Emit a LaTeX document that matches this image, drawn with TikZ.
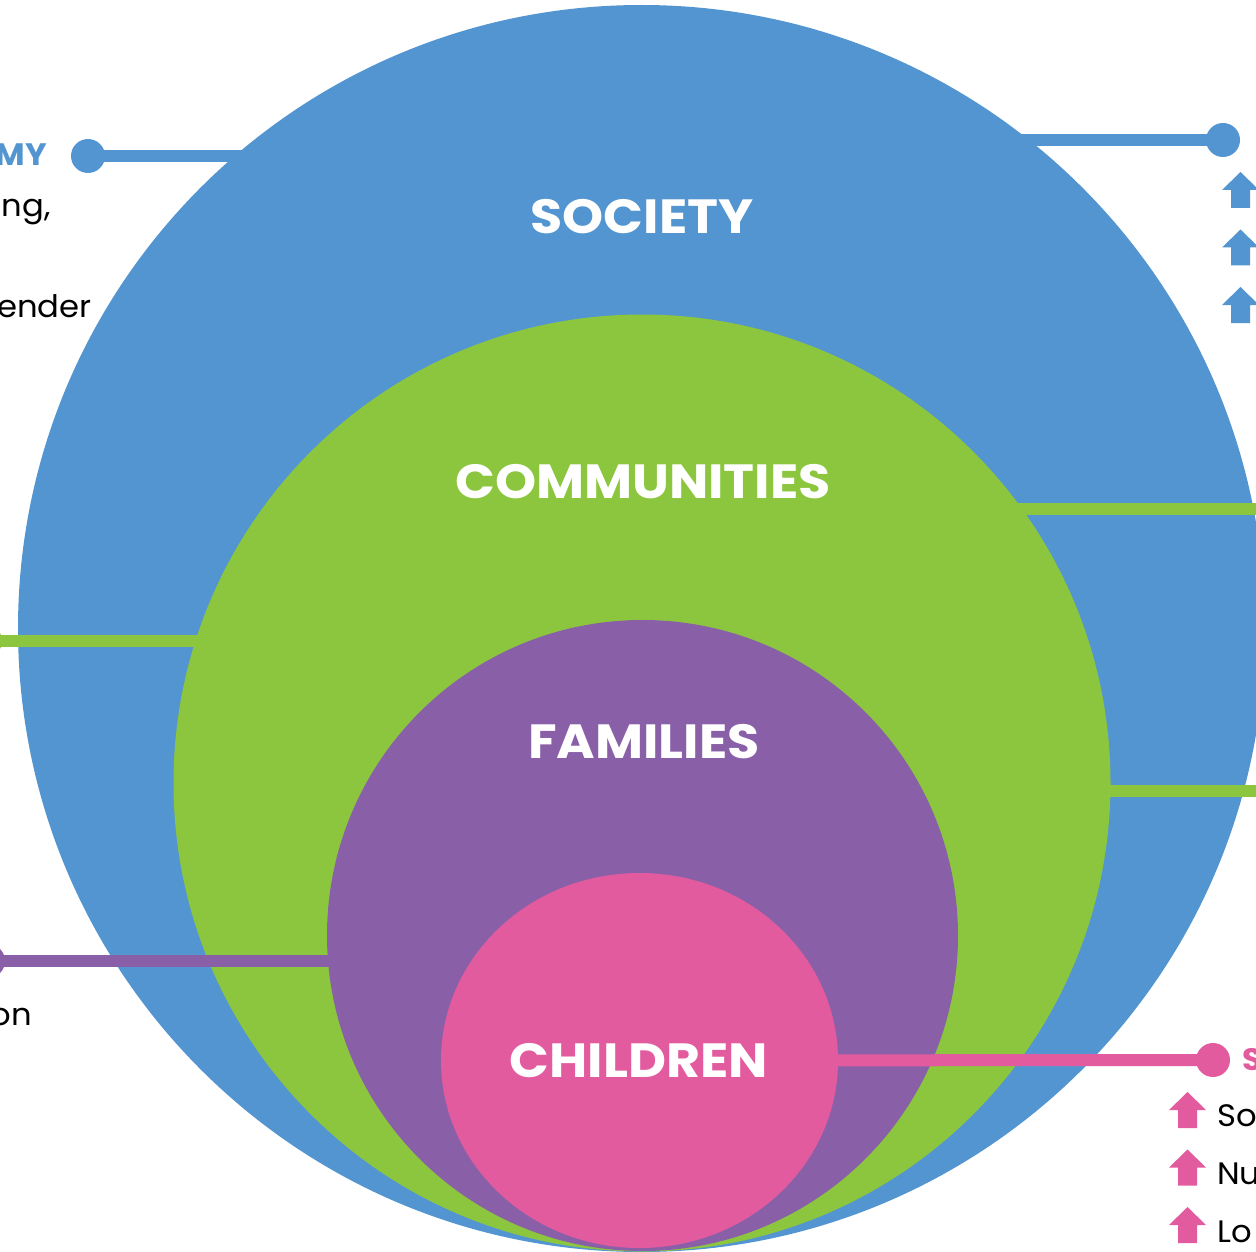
\documentclass[tikz,border=0pt]{standalone}
\usepackage{fontspec}
\setmainfont{Poppins}
\usetikzlibrary{positioning}
\definecolor{socblue}{HTML}{5395D0}
\definecolor{comgreen}{HTML}{8CC63F}
\definecolor{fampurple}{HTML}{8960A8}
\definecolor{chipink}{HTML}{E35B9F}
\tikzset{
    every picture/.style={x=1pt,y=-1pt},
    ringlabel/.style={text=white, font=\fontsize{48}{48}\selectfont\bfseries, xscale=1.09},
    sidetext/.style={font=\fontsize{31}{31}\selectfont, inner sep=0pt, xscale=1.04},
    sidehead/.style={font=\fontsize{31}{31}\selectfont\bfseries, inner sep=0pt, xscale=1.04},
    link/.style={line width=12pt},
    uparr/.pic={\fill (-18.5,0) -- (0,-18) -- (18.5,0) -- (9.5,0) -- (9.5,18) -- (-9.5,18) -- (-9.5,0) -- cycle;}
}

\begin{document}
\begin{tikzpicture}
    \useasboundingbox (0,0) rectangle (1256,1252);

    % Define centres
    \coordinate (soc) at (641.5,628.5);
    \coordinate (comm) at (642,783);
    \coordinate (fam) at (642.5,935.5);
    \coordinate (child) at (639.5,1060.5);

    % Define dots and free ends
    \coordinate (ecodot) at (88,156);
    \coordinate (socR) at (1223,140);
    \coordinate (comL) at (-15,641);
    \coordinate (comR1) at (1280,508.5);
    \coordinate (comR2) at (1280,791);
    \coordinate (famL) at (-12,961);
    \coordinate (chiR) at (1213,1060);

    % Society
    \fill[socblue] (soc) circle (623.5pt);
    \draw[link, socblue] (ecodot) -- (ecodot -| soc);
    \draw[link, socblue] (socR) -- (socR -| soc);
    \fill[socblue] (ecodot) circle (17pt);
    \fill[socblue] (socR) circle (17pt);

    % Communities
    \draw[link, comgreen] (comL) -- (comL -| comm);
    \draw[link, comgreen] (comR1) -- (comR1 -| comm);
    \draw[link, comgreen] (comR2) -- (comR2 -| comm);
    \fill[comgreen] (comL) circle (17pt);
    \fill[comgreen] (comm) circle (468.5pt);

    % Families
    \draw[link, fampurple] (famL) -- (famL -| fam);
    \fill[fampurple] (famL) circle (17pt);
    \fill[fampurple] (fam) circle (315.5pt);

    % Children
    \draw[link, chipink] (child) -- (chiR);
    \fill[chipink] (chiR) circle (17pt);
    \fill[chipink] (child) ellipse [x radius=198.5pt, y radius=187.5pt];

    % Ring labels
    \node[ringlabel] (lsoc) at (642,217) {SOCIETY};
    \node[ringlabel] (lcomm) at (643,481.5) {COMMUNITIES};
    \node[ringlabel] (lfam) at (644,741.5) {FAMILIES};
    \node[ringlabel] (lchild) at (639,1061) {CHILDREN};

    % Left texts
    \node[sidehead, text=socblue, anchor=base east] (teco) at (47,166) {MY};
    \node[sidetext, anchor=base east] (teco1) at (51,217) {ng,};
    \node[sidetext, anchor=base east] (teco3) at (92,317) {ender};
    \node[sidetext, anchor=base east] (tfam) at (32,1025) {on};

    % Right texts and arrows
    \foreach \i in {0,1,2} {
        \pic[socblue] at (1240.5,{190+57.5*\i}) {uparr};
    }
    \node[sidehead, text=chipink, anchor=base west] (tchi) at (1242,1070) {S};
    \foreach \t [count=\i from 0] in {So,Nu,Lo} {
        \pic[chipink] at (1187.5,{1110+57.5*\i}) {uparr};
        \node[sidetext, anchor=base west] (tchi\i) at (1217,{1126+58.3*\i}) {\t};
    }
\end{tikzpicture}
\end{document}
